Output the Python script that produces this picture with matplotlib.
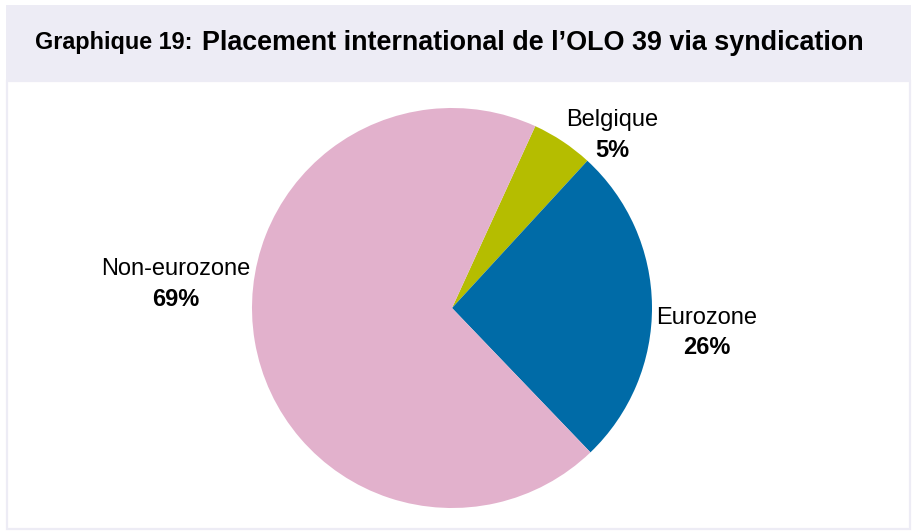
import matplotlib
matplotlib.use('Agg')
import matplotlib.pyplot as plt
from matplotlib.patches import Rectangle

plt.rcParams['font.family'] = ['Liberation Sans', 'DejaVu Sans']

# data
labels = ['Belgique', 'Eurozone', 'Non-eurozone']
shares = [5, 26, 69]
colors = ['#B5BD00', '#006BA7', '#E2B1CC']
# label positions (data units, pie radius = 1)
label_pos = [(0.80, 0.865), (1.275, -0.125), (-1.38, 0.12)]

W, H = 915, 532
fig = plt.figure(figsize=(W / 100, H / 100), dpi=100)

band = '#EDECF5'
# title band and framed body
fig.patches.append(Rectangle((6 / W, 1 - 81 / H), 905 / W, 76 / H,
                             transform=fig.transFigure, facecolor=band,
                             edgecolor='none', zorder=0))
fig.patches.append(Rectangle((7 / W, 1 - 529 / H), 903 / W, 448 / H,
                             transform=fig.transFigure, facecolor='white',
                             edgecolor=band, linewidth=1.6, zorder=0))

fig.text(35 / W, 1 - 43 / H, 'Graphique 19:', fontsize=16.8, fontweight='bold',
         va='center', ha='left')
fig.text(202 / W, 1 - 43 / H, 'Placement international de l\u2019OLO 39 via syndication',
         fontsize=19.4, fontweight='bold', va='center', ha='left')

cx, cy, r = 452, 308, 200
ax = fig.add_axes([(cx - r) / W, (H - cy - r) / H, 2 * r / W, 2 * r / H])
ax.set_zorder(2)
ax.pie(shares, colors=colors, startangle=65.4, counterclock=False,
       wedgeprops=dict(linewidth=0))
ax.set_xlim(-1, 1)
ax.set_ylim(-1, 1)
ax.axis('off')

for lab, val, (x, y) in zip(labels, shares, label_pos):
    ax.text(x, y + 0.075, lab, fontsize=17, ha='center', va='center', clip_on=False)
    ax.text(x, y - 0.075, f'{val}%', fontsize=17, fontweight='bold',
            ha='center', va='center', clip_on=False)

fig.savefig('out.png', dpi=100)
